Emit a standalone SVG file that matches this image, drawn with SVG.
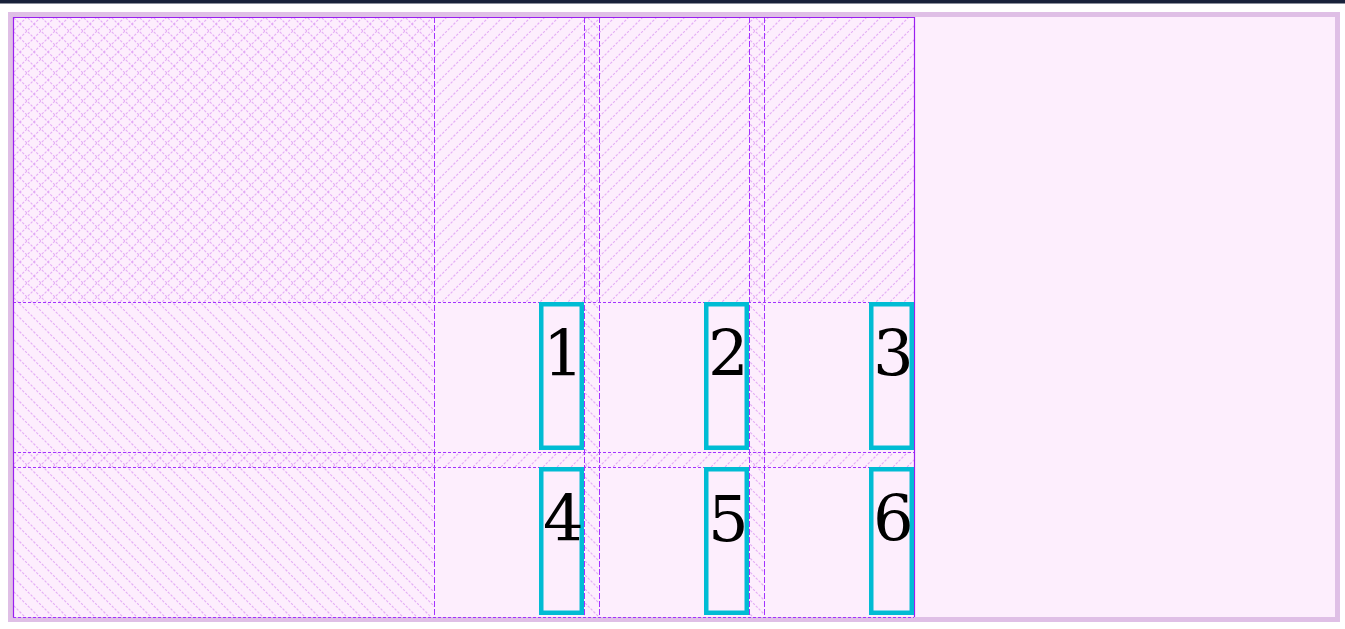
<svg xmlns="http://www.w3.org/2000/svg" width="1345" height="629" viewBox="0 0 1345 629">
  <style>
    .num { font-family: "DejaVu Serif", "Liberation Serif", serif; font-size: 64px; fill: #000; }
    .item { fill: none; stroke: #00bcd4; stroke-width: 4.5; }
    .vline { stroke: #a333ff; stroke-width: 1; stroke-dasharray: 6 2; }
    .hline { stroke: #a333ff; stroke-width: 1; stroke-dasharray: 3 2; }
    .solid { stroke: #9a1ff0; stroke-width: 1.2; fill: none; }
  </style>
  <defs>
    <pattern id="fwd" patternUnits="userSpaceOnUse" width="14" height="14" x="13" y="17">
      <path d="M-2 16 L16 -2 M-2 2 L2 -2 M12 16 L16 12" stroke="#dc98f4" stroke-width="1.2" stroke-dasharray="2.5 1.5" opacity="0.75"/>
    </pattern>
    <pattern id="back" patternUnits="userSpaceOnUse" width="14" height="14" x="13" y="17">
      <path d="M-2 -2 L16 16 M12 -2 L16 2 M-2 12 L2 16" stroke="#dc98f4" stroke-width="1.2" stroke-dasharray="2.5 1.5" opacity="0.75"/>
    </pattern>
  </defs>

  <rect x="0" y="0" width="1345" height="629" fill="#ffffff"/>
  <rect x="0" y="0" width="1345" height="3.5" fill="#18213a"/>
  <rect x="10.5" y="14.5" width="1327" height="605" fill="#fdeefd" stroke="#dfbfe6" stroke-width="5"/>

  <g id="hatching">
    <rect x="13" y="17" width="901" height="285" fill="url(#fwd)"/>
    <rect x="13" y="452" width="901" height="15" fill="url(#fwd)"/>
    <rect x="13" y="17" width="421" height="600" fill="url(#back)"/>
    <rect x="584" y="17" width="15" height="600" fill="url(#back)"/>
    <rect x="749" y="17" width="15" height="600" fill="url(#back)"/>
  </g>

  <g id="grid-lines">
    <line class="vline" x1="434.5" y1="17" x2="434.5" y2="617"/>
    <line class="vline" x1="584.5" y1="17" x2="584.5" y2="617"/>
    <line class="vline" x1="599.5" y1="17" x2="599.5" y2="617"/>
    <line class="vline" x1="749.5" y1="17" x2="749.5" y2="617"/>
    <line class="vline" x1="764.5" y1="17" x2="764.5" y2="617"/>
    <line class="hline" x1="13" y1="302.5" x2="914" y2="302.5"/>
    <line class="hline" x1="13" y1="452.5" x2="914" y2="452.5"/>
    <line class="hline" x1="13" y1="467.5" x2="914" y2="467.5"/>
    <line class="hline" x1="13" y1="617.5" x2="914" y2="617.5"/>
    <path class="solid" d="M13.5 617 L13.5 17.5 L914.5 17.5 L914.5 617"/>
  </g>

  <g id="item-1">
    <rect class="item" x="541.25" y="304.25" width="40.5" height="143.5"/>
    <text class="num" x="543" y="376">1</text>
  </g>
  <g id="item-2">
    <rect class="item" x="706.25" y="304.25" width="40.5" height="143.5"/>
    <text class="num" x="708" y="376">2</text>
  </g>
  <g id="item-3">
    <rect class="item" x="871.25" y="304.25" width="40.5" height="143.5"/>
    <text class="num" x="873" y="376">3</text>
  </g>
  <g id="item-4">
    <rect class="item" x="541.25" y="469.25" width="40.5" height="143.5"/>
    <text class="num" x="543" y="541">4</text>
  </g>
  <g id="item-5">
    <rect class="item" x="706.25" y="469.25" width="40.5" height="143.5"/>
    <text class="num" x="708" y="541">5</text>
  </g>
  <g id="item-6">
    <rect class="item" x="871.25" y="469.25" width="40.5" height="143.5"/>
    <text class="num" x="873" y="541">6</text>
  </g>
</svg>
